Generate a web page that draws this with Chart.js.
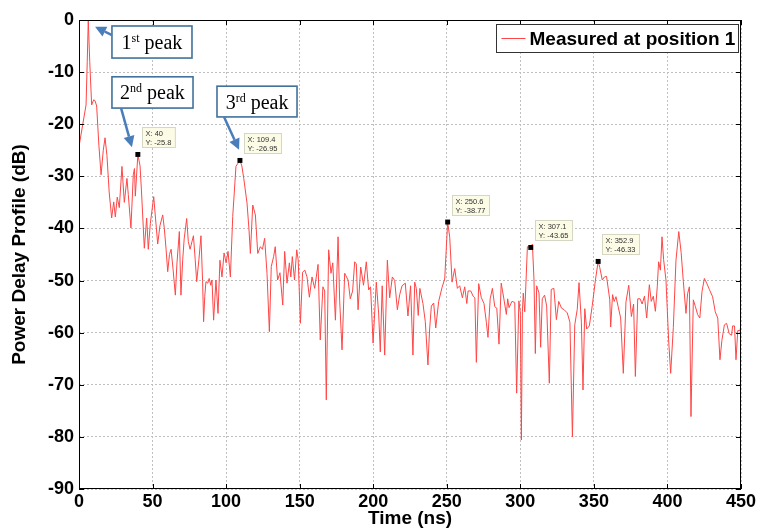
<!DOCTYPE html>
<html><head><meta charset="utf-8">
<script src="https://cdn.jsdelivr.net/npm/chart.js@4.4.0/dist/chart.umd.min.js"></script>
<style>html,body{margin:0;padding:0;background:#fff}#wrap{width:760px;height:529px;position:relative}</style>
</head><body><div id="wrap"><canvas id="c" width="760" height="529"></canvas></div>
<script>
const timeNs = [0,2.5,4.8,5.6,6.3,7.3,8.6,10,10.9,12,13.5,15,16.5,17.7,19,20.5,22.2,23.6,24.7,26,27.4,29.2,30.8,32.6,33.5,35.3,36.9,37.7,38.3,40,41.5,42.5,44.4,46,47.1,48.5,50.8,52,53.5,55,56.9,58,59.2,60.3,61.5,62.6,64,65.5,66.5,68.2,69.3,70.5,71.5,73.2,74.3,75.5,77.8,79,80,81.5,82.9,84,84.7,85.5,86.3,87.5,88.5,89.6,90.4,91.5,93.1,94.5,95.8,97.2,98.6,100,101.3,102.9,104.5,106.7,108,109.4,110.7,112,114.2,115.5,116.5,118.1,119.9,121.5,123.3,124.7,126.2,127.8,129.4,130.7,132.3,133.4,135,136.6,138.5,139.8,141.4,143,144,145,146.5,148,149,150.5,152,153.5,155,156.6,158.4,160.2,162.5,164,165.8,167,168.1,169.7,171.3,172.5,174.3,176.1,177.2,178.8,180.6,182.9,184.4,186,187.4,188.5,189.7,191.5,193.4,195.3,196.9,198.2,199.9,202.1,203.7,204.8,206.1,207.8,209.6,211.2,213,214.6,216.4,218,219.6,221.8,223.6,225.4,227,228.2,229.3,230.6,231.7,233.8,235.4,237.2,238.3,239.5,241.1,242.5,244.5,246.8,248.6,250.6,252,253.6,255.4,257.2,258.8,260.6,262.2,263.6,264.5,266.3,267.9,269.1,270.1,271.7,273.5,275.3,276.9,278,279.5,281,282.6,284,285.5,287,288.8,290.5,291.4,292.3,294.3,296.2,297.5,299,300,300.7,301.4,302,303,303.9,304.8,307.1,308.2,309.3,310.2,311.1,312.7,313.8,314.9,316.5,317.9,319.7,321,322.8,324.5,326.1,328,329.8,331.9,333.7,335.4,337,338.7,339.9,341.5,342.6,343.8,345.1,346.9,348.9,351,352.9,354,355.7,357.2,358.6,360.8,361.4,362.7,363.8,365,366.5,368.2,370,371.8,373.7,375.5,377,378.2,379.8,381.4,382.8,384.4,385.9,387.7,389,390.4,391.8,393.1,394,395.2,396.3,397.4,399,400.8,402.2,404,405.8,407.7,409.3,410.8,412.6,413.7,414.9,416,417.6,419,420.5,422,423.5,425.1,426.7,428.5,430.7,432.5,434.2,435.7,437,438.7,440.2,442,443.6,444.3,445.6,446.6,447.8,449.3,450];
const pdpDb = [-24.3,-20.1,-16.3,-8,0,-8,-16.3,-15.3,-15.5,-16.5,-24,-29.7,-25,-22.6,-26,-33,-38,-34.9,-37.8,-34,-36,-28.1,-35,-30.4,-33.5,-39.9,-29.7,-28.5,-33.8,-25.8,-28,-33,-43.8,-38,-44,-39,-33.9,-38,-43,-39.5,-37.4,-40,-44,-48.3,-45,-44,-48,-52.8,-47,-40.6,-52.8,-46,-42,-38.1,-42.5,-44,-41.4,-46,-50.2,-46,-41.4,-50,-57.9,-53,-50.2,-50.5,-49.6,-50.9,-49.9,-57.6,-49.9,-56.3,-46.1,-49.3,-44.7,-46.6,-44.4,-49.3,-37.7,-28.1,-27.5,-26.95,-28,-30.4,-35.1,-40,-44.8,-35.5,-37.4,-44.8,-43.5,-44,-41.9,-48.6,-59.8,-47.3,-45.4,-43.5,-49.9,-48.5,-54.7,-44.4,-50.5,-46.6,-49.3,-45.4,-49.9,-44.1,-46,-58.2,-48.4,-48,-49.3,-53.2,-49.3,-51.5,-46.9,-61.4,-51.2,-52,-72.9,-44.1,-48.6,-46.6,-57.6,-41.6,-53.9,-63.3,-48.6,-49.9,-53.5,-52,-46.4,-46.8,-55.6,-47.4,-50.9,-46.4,-51.8,-51.2,-62,-50.3,-56.4,-63.7,-51,-64.3,-46.1,-53.3,-49.3,-50,-55.6,-52.7,-51,-50.5,-56.8,-51,-64.3,-50.3,-51.5,-56.7,-51.5,-54.4,-57.9,-66.2,-59.5,-54.9,-54.3,-59.1,-54,-51.3,-49.7,-38.77,-41.7,-50.3,-47.7,-51.5,-51,-53.3,-51.2,-54.4,-52,-52,-53,-53.3,-65.7,-50.6,-53.3,-54.4,-58,-60.9,-53.5,-51.5,-55,-55.3,-62.2,-50.5,-53.5,-56.5,-53.5,-55.2,-54,-54.2,-71.6,-53.9,-56.2,-80.6,-56,-52.4,-56,-49.9,-43.5,-43.65,-43,-49.9,-64,-51,-52.4,-62.8,-53.5,-52.8,-54.9,-69.7,-51.7,-51.5,-57.5,-54,-55.3,-55.6,-56.2,-58,-80,-58.5,-55.5,-50.4,-58,-71,-55.4,-59.3,-58.7,-54.8,-50,-46.33,-47.5,-49.9,-49.3,-49.2,-53.7,-58.9,-52.7,-54,-53.1,-55,-57.2,-67.8,-54.1,-50.9,-56.9,-54.5,-68.4,-53.5,-53.5,-54.5,-53,-57.2,-50.8,-54,-53,-55.9,-51.1,-46.4,-48,-41.6,-46,-49.9,-61.4,-67.8,-59,-46.1,-40.6,-44.6,-50.2,-56.3,-52.5,-51.2,-76.1,-53.7,-55,-56.5,-57.2,-52.1,-49.6,-50.5,-51.7,-53.1,-56,-57.2,-65.2,-61.5,-58.5,-58.2,-60.2,-60.5,-58.7,-58.7,-65.2,-59.6,-59.6,-58.6];
const tipX = [40, 109.4, 250.6, 307.1, 352.9];
const tipY = [-25.8, -26.95, -38.77, -43.65, -46.33];
const tipXText = ['40', '109.4', '250.6', '307.1', '352.9'];
const tipYText = ['-25.8', '-26.95', '-38.77', '-43.65', '-46.33'];
const xTicks = [0, 50, 100, 150, 200, 250, 300, 350, 400, 450];
const yTicks = [0, -10, -20, -30, -40, -50, -60, -70, -80, -90];
const seriesLabel = 'Measured at position 1';
const xTitle = 'Time (ns)';
const yTitle = 'Power Delay Profile (dB)';
const peakNum = ['1', '2', '3'];
const peakSup = ['st', 'nd', 'rd'];
const peakWord = ' peak';

const SANS = '"Liberation Sans", Arial, sans-serif';
const SERIF = '"Liberation Serif", "Times New Roman", serif';
const LINE_RED = '#ff4646';
const CALLOUT_BLUE = '#4a7ebb';

// callout layout (data coordinates)
const callouts = [
  {box: [22.4, -1.15, 76.8, -7.3], tail: [22.4, -2.9], tip: [10.9, -1.3]},
  {box: [22.4, -10.9, 77.5, -16.9], tail: [28.6, -16.9], tip: [36, -24.4]},
  {box: [93.8, -12.7, 148.2, -18.6], tail: [98.6, -18.6], tip: [108.8, -24.9]}
];

function arrow(ctx, x1, y1, x2, y2) {
  const a = Math.atan2(y2 - y1, x2 - x1);
  const hl = 11, hw = 5.5;
  const bx = x2 - hl * Math.cos(a), by = y2 - hl * Math.sin(a);
  ctx.strokeStyle = CALLOUT_BLUE; ctx.lineWidth = 2.5;
  ctx.beginPath(); ctx.moveTo(x1, y1); ctx.lineTo(bx, by); ctx.stroke();
  ctx.fillStyle = CALLOUT_BLUE;
  ctx.beginPath();
  ctx.moveTo(x2, y2);
  ctx.lineTo(bx + hw * Math.sin(a), by - hw * Math.cos(a));
  ctx.lineTo(bx - hw * Math.sin(a), by + hw * Math.cos(a));
  ctx.closePath(); ctx.fill();
}

const decor = {
  id: 'decor',
  afterDraw(chart) {
    const {ctx, chartArea: ca, scales: {x, y}} = chart;
    ctx.save();
    // frame
    ctx.strokeStyle = '#000'; ctx.lineWidth = 1; ctx.setLineDash([]);
    ctx.strokeRect(Math.round(ca.left) + 0.5, Math.round(ca.top) + 0.5, Math.round(ca.width) - 1, Math.round(ca.height) - 1);
    // inward ticks
    ctx.beginPath();
    xTicks.forEach(v => {
      const px = Math.round(x.getPixelForValue(v)) + 0.5;
      ctx.moveTo(px, ca.bottom); ctx.lineTo(px, ca.bottom - 5);
      ctx.moveTo(px, ca.top); ctx.lineTo(px, ca.top + 5);
    });
    yTicks.forEach(v => {
      const py = Math.round(y.getPixelForValue(v)) + 0.5;
      ctx.moveTo(ca.left, py); ctx.lineTo(ca.left + 5, py);
      ctx.moveTo(ca.right, py); ctx.lineTo(ca.right - 5, py);
    });
    ctx.stroke();

    // data tips
    ctx.font = '7.5px ' + SANS;
    tipX.forEach((v, i) => {
      const px = x.getPixelForValue(v), py = y.getPixelForValue(tipY[i]);
      const l1 = 'X: ' + tipXText[i], l2 = 'Y: ' + tipYText[i];
      const w = Math.max(ctx.measureText(l1).width, ctx.measureText(l2).width) + 7;
      const bx = Math.round(px + 4) + 0.5, by = Math.round(py - 27) + 0.5;
      ctx.fillStyle = '#fbfbe6'; ctx.strokeStyle = '#d6d6c4'; ctx.lineWidth = 1;
      ctx.fillRect(bx, by, w, 20); ctx.strokeRect(bx, by, w, 20);
      ctx.fillStyle = '#333'; ctx.textAlign = 'left'; ctx.textBaseline = 'alphabetic';
      ctx.fillText(l1, bx + 3, by + 8.5);
      ctx.fillText(l2, bx + 3, by + 17);
    });

    // callouts
    callouts.forEach((c, i) => {
      const x1 = x.getPixelForValue(c.box[0]), y1 = y.getPixelForValue(c.box[1]);
      const x2 = x.getPixelForValue(c.box[2]), y2 = y.getPixelForValue(c.box[3]);
      ctx.fillStyle = '#fff'; ctx.fillRect(x1, y1, x2 - x1, y2 - y1);
      ctx.strokeStyle = '#41719c'; ctx.lineWidth = 1.6;
      ctx.strokeRect(x1, y1, x2 - x1, y2 - y1);
      arrow(ctx, x.getPixelForValue(c.tail[0]), y.getPixelForValue(c.tail[1]),
        x.getPixelForValue(c.tip[0]), y.getPixelForValue(c.tip[1]));
      ctx.fillStyle = '#000'; ctx.textBaseline = 'alphabetic'; ctx.textAlign = 'left';
      const big = '20px ' + SERIF, small = '12px ' + SERIF;
      ctx.font = big; const w1 = ctx.measureText(peakNum[i]).width; const w3 = ctx.measureText(peakWord).width;
      ctx.font = small; const w2 = ctx.measureText(peakSup[i]).width;
      const tw = w1 + w2 + w3;
      let tx = (x1 + x2) / 2 - tw / 2;
      const base = (y1 + y2) / 2 + 7;
      ctx.font = big; ctx.fillText(peakNum[i], tx, base); tx += w1;
      ctx.font = small; ctx.fillText(peakSup[i], tx, base - 7); tx += w2;
      ctx.font = big; ctx.fillText(peakWord, tx, base);
    });

    // legend
    const lx = 496.5, ly = 24.5, lw = 242, lh = 28;
    ctx.fillStyle = '#fff'; ctx.fillRect(lx, ly, lw, lh);
    ctx.strokeStyle = '#333'; ctx.lineWidth = 1; ctx.strokeRect(lx, ly, lw, lh);
    ctx.strokeStyle = chart.data.datasets[0].borderColor; ctx.lineWidth = 1;
    ctx.beginPath(); ctx.moveTo(lx + 5, ly + 14); ctx.lineTo(lx + 29, ly + 14); ctx.stroke();
    ctx.fillStyle = '#000'; ctx.font = 'bold 19px ' + SANS; ctx.textBaseline = 'middle'; ctx.textAlign = 'left';
    ctx.fillText(chart.data.datasets[0].label, lx + 33, ly + 15);
    ctx.restore();
  }
};

const tickFont = {family: SANS, size: 18, weight: 'bold'};
const titleFont = {family: SANS, size: 19, weight: 'bold', lineHeight: 1};

new Chart(document.getElementById('c').getContext('2d'), {
  type: 'line',
  data: {
    datasets: [
      {label: seriesLabel, data: timeNs.map((v, i) => ({x: v, y: pdpDb[i]})),
        borderColor: LINE_RED, borderWidth: 1, pointRadius: 0, tension: 0, fill: false, order: 2},
      {label: 'tips', data: tipX.map((v, i) => ({x: v, y: tipY[i]})), showLine: false,
        pointStyle: 'rect', pointRadius: 3.5, backgroundColor: '#000', borderColor: '#000', borderWidth: 0, order: 1}
    ]
  },
  options: {
    responsive: false, animation: false, devicePixelRatio: 1,
    layout: {padding: {left: 0, top: 20, right: 19, bottom: 0}},
    plugins: {legend: {display: false}, tooltip: {enabled: false}},
    scales: {
      x: {
        type: 'linear', min: 0, max: 450,
        afterBuildTicks: s => { s.ticks = xTicks.map(v => ({value: v})); },
        ticks: {font: tickFont, color: '#000', padding: 2, maxRotation: 0, autoSkip: false},
        grid: {color: '#bfbfbf', lineWidth: 1, drawTicks: false, borderDash: [2, 2], dash: [2, 2]},
        border: {display: false, dash: [2, 2]},
        title: {display: true, text: xTitle, font: titleFont, color: '#000', padding: {top: 0, bottom: 1}},
        afterFit: s => { s.height = 40; }
      },
      y: {
        type: 'linear', min: -90, max: 0,
        afterBuildTicks: s => { s.ticks = yTicks.map(v => ({value: v})); },
        ticks: {font: tickFont, color: '#000', padding: 5, autoSkip: false},
        grid: {color: '#bfbfbf', lineWidth: 1, drawTicks: false, borderDash: [2, 2], dash: [2, 2]},
        border: {display: false, dash: [2, 2]},
        title: {display: true, text: yTitle, font: titleFont, color: '#000', padding: {top: 10, bottom: 0}},
        afterFit: s => { s.width = 79; }
      }
    }
  },
  plugins: [decor]
});
</script>
</body></html>
